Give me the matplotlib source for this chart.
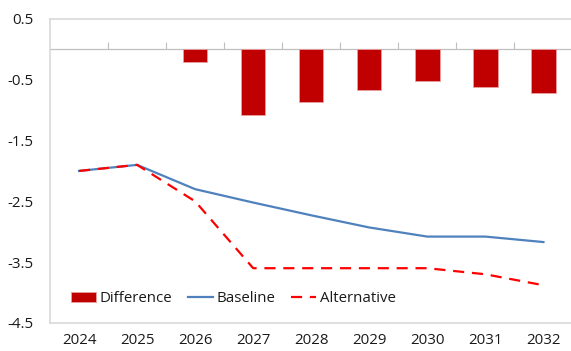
import matplotlib.pyplot as plt
import numpy as np

years = ["2024", "2025", "2026", "2027", "2028", "2029", "2030", "2031", "2032"]
baseline = [-2.0, -1.9, -2.3, -2.52, -2.73, -2.93, -3.08, -3.08, -3.17]
alternative = [-2.0, -1.9, -2.5, -3.6, -3.6, -3.6, -3.6, -3.7, -3.88]
difference = [None, None, -0.2, -1.08, -0.87, -0.67, -0.52, -0.62, -0.71]
yticks = [0.5, -0.5, -1.5, -2.5, -3.5, -4.5]

plt.rcParams['font.family'] = ['Open Sans', 'DejaVu Sans']
fs = 10.8

fig = plt.figure(figsize=(5.71, 3.51), dpi=100)
ax = fig.add_axes([0.0876, 0.080, 0.915, 0.866])

x = np.arange(len(years))
bar_x = [i for i, v in zip(x, difference) if v is not None]
bar_v = [v for v in difference if v is not None]

bars = ax.bar(bar_x, bar_v, width=0.42, color='#C00000', edgecolor='#E8A0A0',
              linewidth=0.6, label='Difference', zorder=2)
base_line, = ax.plot(x, baseline, color='#4F81BD', lw=1.6, label='Baseline', zorder=3)
alt_line, = ax.plot(x, alternative, color='#FF0000', lw=1.6, ls=(0, (5, 3.5)),
                    label='Alternative', zorder=4)

ax.set_xlim(-0.5, len(years) - 0.5)
ax.set_ylim(-4.5, 0.5)
ax.set_yticks(yticks)
ax.set_yticklabels([f"{t:g}" for t in yticks])
ax.set_xticks(x)
ax.set_xticklabels(years)
ax.tick_params(axis='both', length=0, colors='#1a1a1a', labelsize=fs)
ax.tick_params(axis='y', pad=12)
ax.tick_params(axis='x', pad=7)

for side in ['top', 'left', 'bottom']:
    ax.spines[side].set_color('#D9D9D9')
    ax.spines[side].set_linewidth(1.2)
ax.spines['right'].set_visible(False)

# category axis crossing at zero, with tick marks between years
zero_ax = ax.secondary_xaxis(0.9)
zero_ax.set_xticks(np.arange(0.5, len(years) - 0.5, 1.0))
zero_ax.set_xticklabels([])
zero_ax.tick_params(axis='x', which='both', direction='out', length=5,
                    color='#BFBFBF', width=0.8, top=True, bottom=False)
for sp in zero_ax.spines.values():
    sp.set_color('#BFBFBF')
    sp.set_linewidth(0.9)

leg = ax.legend([bars, base_line, alt_line], ['Difference', 'Baseline', 'Alternative'],
                loc='center left', bbox_to_anchor=(0.028, 0.079), ncol=3,
                frameon=False, fontsize=fs, handlelength=1.7, handleheight=0.6,
                handletextpad=0.25, columnspacing=1.0, borderaxespad=0)
for t in leg.get_texts():
    t.set_color('#1a1a1a')

fig.savefig('out.png', dpi=100)
